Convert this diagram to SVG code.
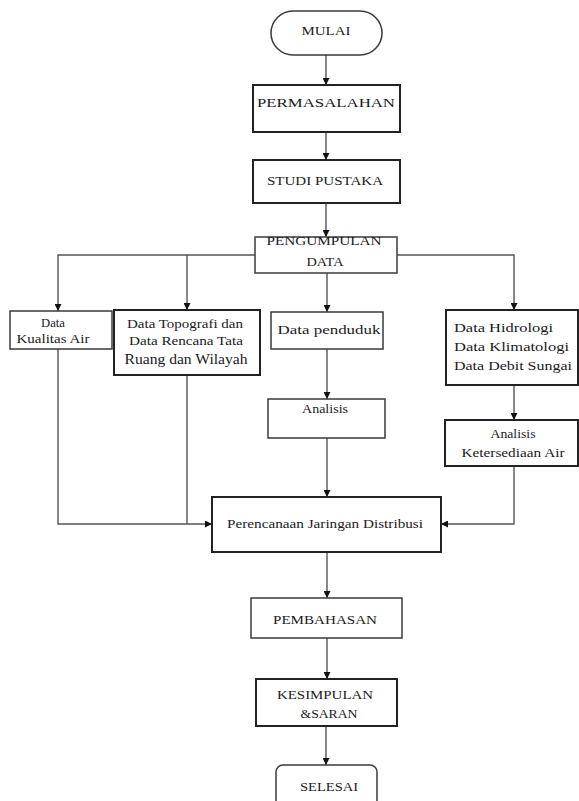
<svg xmlns="http://www.w3.org/2000/svg" width="579" height="801" viewBox="0 0 579 801">
<style>
.b{fill:#fff;stroke:#3a3a3a;stroke-width:1.5}
.bk{fill:#fff;stroke:#222;stroke-width:2}
.c{fill:none;stroke:#555;stroke-width:1.4}
text{font-family:"Liberation Serif","Times New Roman",serif;font-size:13px;fill:#1a1a1a}
.m{text-anchor:middle}
</style>
<defs>
<marker id="a" viewBox="0 0 8 8" refX="8" refY="4" markerWidth="7" markerHeight="7" markerUnits="userSpaceOnUse" orient="auto">
<path d="M0,0L8,4L0,8z" fill="#111"/>
</marker>
</defs>
<rect width="579" height="801" fill="#fff"/>
<g id="connectors">
<line class="c" x1="326" y1="55" x2="326" y2="85" marker-end="url(#a)"/>
<line class="c" x1="326" y1="132" x2="326" y2="160" marker-end="url(#a)"/>
<line class="c" x1="326" y1="203" x2="326" y2="237" marker-end="url(#a)"/>
<polyline class="c" points="255,255 58,255 58,311" marker-end="url(#a)"/>
<line class="c" x1="187" y1="255" x2="187" y2="310" marker-end="url(#a)"/>
<polyline class="c" points="397,255 514,255 514,310" marker-end="url(#a)"/>
<line class="c" x1="327" y1="273" x2="327" y2="312" marker-end="url(#a)"/>
<line class="c" x1="327" y1="349" x2="327" y2="399" marker-end="url(#a)"/>
<line class="c" x1="514" y1="385" x2="514" y2="420" marker-end="url(#a)"/>
<line class="c" x1="327" y1="438" x2="327" y2="497" marker-end="url(#a)"/>
<polyline class="c" points="58,349 58,524 212,524" marker-end="url(#a)"/>
<line class="c" x1="187" y1="375" x2="187" y2="524"/>
<polyline class="c" points="514,466 514,524 441,524" marker-end="url(#a)"/>
<line class="c" x1="327" y1="552" x2="327" y2="598" marker-end="url(#a)"/>
<line class="c" x1="327" y1="638" x2="327" y2="679" marker-end="url(#a)"/>
<line class="c" x1="326" y1="726" x2="326" y2="765" marker-end="url(#a)"/>
</g>
<g id="mulai">
<rect class="b" x="271" y="11" width="111" height="44" rx="22"/>
<text class="m" x="326" y="35" textLength="49" lengthAdjust="spacingAndGlyphs">MULAI</text>
</g>
<g id="permasalahan">
<rect class="bk" x="253" y="85" width="147" height="47"/>
<text class="m" x="326" y="107" textLength="138" lengthAdjust="spacingAndGlyphs">PERMASALAHAN</text>
</g>
<g id="studi">
<rect class="bk" x="253" y="160" width="147" height="43"/>
<text class="m" x="325" y="185" textLength="116" lengthAdjust="spacingAndGlyphs">STUDI PUSTAKA</text>
</g>
<g id="pengumpulan">
<rect class="b" x="255" y="237" width="142" height="36"/>
<text class="m" x="324" y="245" textLength="115" lengthAdjust="spacingAndGlyphs">PENGUMPULAN</text>
<text class="m" x="325" y="266" textLength="37" lengthAdjust="spacingAndGlyphs">DATA</text>
</g>
<g id="kualitas">
<rect class="b" x="10" y="311" width="102" height="38"/>
<text class="m" x="53" y="327" textLength="24" lengthAdjust="spacingAndGlyphs">Data</text>
<text class="m" x="53" y="343" textLength="73" lengthAdjust="spacingAndGlyphs">Kualitas Air</text>
</g>
<g id="topografi">
<rect class="bk" x="114" y="310" width="146" height="65"/>
<text class="m" x="185" y="328" textLength="116" lengthAdjust="spacingAndGlyphs">Data Topografi dan</text>
<text class="m" x="186" y="345" textLength="114" lengthAdjust="spacingAndGlyphs">Data Rencana Tata</text>
<text class="m" x="186" y="364" font-size="14" style="font-size:14px" textLength="123" lengthAdjust="spacingAndGlyphs">Ruang dan Wilayah</text>
</g>
<g id="penduduk">
<rect class="b" x="271" y="312" width="112" height="37"/>
<text class="m" x="329" y="334" textLength="103" lengthAdjust="spacingAndGlyphs">Data penduduk</text>
</g>
<g id="hidrologi">
<rect class="bk" x="446" y="310" width="132" height="75"/>
<text x="454" y="332" textLength="99" lengthAdjust="spacingAndGlyphs">Data Hidrologi</text>
<text x="454" y="351" textLength="115" lengthAdjust="spacingAndGlyphs">Data Klimatologi</text>
<text x="454" y="370" textLength="118" lengthAdjust="spacingAndGlyphs">Data Debit Sungai</text>
</g>
<g id="analisis-kebutuhan">
<rect class="b" x="268" y="399" width="117" height="39"/>
<text class="m" x="325" y="413" textLength="46" lengthAdjust="spacingAndGlyphs">Analisis</text>
</g>
<g id="analisis-ketersediaan">
<rect class="bk" x="445" y="420" width="133" height="46"/>
<text class="m" x="513" y="438" textLength="45" lengthAdjust="spacingAndGlyphs">Analisis</text>
<text class="m" x="513" y="457" textLength="103" lengthAdjust="spacingAndGlyphs">Ketersediaan Air</text>
</g>
<g id="perencanaan">
<rect class="bk" x="212" y="497" width="229" height="55"/>
<text class="m" x="325" y="528" textLength="196" lengthAdjust="spacingAndGlyphs">Perencanaan Jaringan Distribusi</text>
</g>
<g id="pembahasan">
<rect class="b" x="251" y="598" width="151" height="40"/>
<text class="m" x="325" y="624" textLength="104" lengthAdjust="spacingAndGlyphs">PEMBAHASAN</text>
</g>
<g id="kesimpulan">
<rect class="bk" x="256" y="679" width="141" height="47"/>
<text class="m" x="325" y="699" textLength="96" lengthAdjust="spacingAndGlyphs">KESIMPULAN</text>
<text class="m" x="329" y="718" textLength="57" lengthAdjust="spacingAndGlyphs">&amp;SARAN</text>
</g>
<g id="selesai">
<rect class="b" x="276" y="765" width="101" height="50" rx="7"/>
<text class="m" x="329" y="791" textLength="58" lengthAdjust="spacingAndGlyphs">SELESAI</text>
</g>
</svg>
